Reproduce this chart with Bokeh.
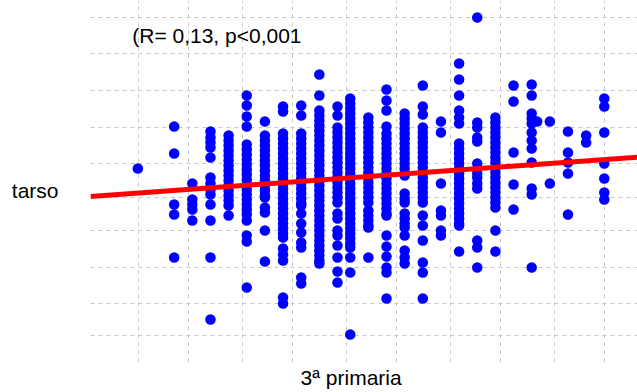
from bokeh.plotting import figure
from bokeh.models import Range1d, FixedTicker, Label
from bokeh.embed import file_html
from bokeh.resources import INLINE

# x positions of the score columns ("3ª primaria", arbitrary units)
score_cols = [0, 2, 3, 4, 5, 6, 7, 8, 9, 10, 11, 11.7, 12.7, 13.7, 14.7, 15.7,
              16.7, 17.7, 18.7, 19.7, 20.7, 21.7, 22.0, 22.7, 23.7, 24.7, 25.7]

# tarso values per column
tarso_c00 = [19.4]
tarso_c02 = [23.6, 20.9, 15.8, 14.8, 10.5]
tarso_c03 = [17.9, 16.3, 15.8, 15.3, 14.2]
tarso_c04 = [23.1, 22.5, 22.0, 21.5, 20.5, 18.5, 17.9, 17.3, 16.8, 15.8, 14.2, 10.5, 4.3]
tarso_c05 = [22.7, 22.2, 21.7, 21.2, 20.7, 20.2, 19.7, 19.2, 18.7, 18.2, 17.7, 17.2,
             16.7, 16.2, 15.7, 14.7]
tarso_c06 = [26.7, 25.7, 24.6, 23.6, 21.8, 21.3, 20.8, 20.3, 19.8, 19.3, 18.8, 18.3,
             17.8, 17.3, 16.8, 16.3, 15.8, 15.3, 14.8, 14.2, 12.7, 12.1, 7.5]
tarso_c07 = [24.1, 22.7, 22.2, 21.7, 21.2, 20.7, 20.2, 19.7, 19.2, 18.7, 18.2, 17.7,
             17.2, 16.7, 16.5, 15.5, 15.0, 13.2, 10.1]
tarso_c08 = [25.6, 25.1, 22.9, 22.4, 21.9, 21.4, 20.9, 20.4, 19.9, 19.4, 18.9, 18.4,
             17.9, 17.4, 16.9, 16.4, 15.9, 15.4, 14.9, 14.4, 13.9, 13.4, 12.9, 12.5,
             11.4, 10.8, 10.2, 6.5, 5.9]
tarso_c09 = [25.7, 24.7, 22.9, 22.4, 21.9, 21.4, 20.9, 20.4, 19.9, 19.4, 18.9, 18.4,
             17.9, 17.4, 16.9, 16.4, 15.9, 15.7, 14.9, 13.9, 13.0, 12.0, 11.5, 8.5, 7.9]
tarso_c10 = [28.8, 26.7, 25.2, 24.7, 24.2, 23.7, 23.2, 22.7, 22.2, 21.7, 21.2, 20.7,
             20.2, 19.7, 19.2, 18.7, 18.2, 17.7, 17.2, 16.7, 16.2, 15.7, 15.2, 14.7,
             14.2, 13.7, 13.2, 12.7, 12.2, 11.7, 11.2, 10.7, 10.2, 9.9]
tarso_c11 = [25.6, 24.7, 23.5, 23.0, 22.5, 22.0, 21.5, 21.0, 20.5, 20.0, 19.5, 19.0,
             18.5, 18.0, 17.5, 17.0, 16.5, 16.0, 14.9, 14.4, 13.2, 12.7, 11.7, 10.5,
             9.1, 8.0]
tarso_c12 = [26.4, 25.9, 25.4, 24.9, 24.4, 23.9, 23.4, 22.9, 22.4, 21.9, 21.4, 20.9,
             20.4, 19.9, 19.4, 18.9, 18.4, 17.9, 17.4, 16.9, 16.4, 15.9, 15.4, 14.9,
             14.4, 13.9, 13.4, 12.9, 12.4, 11.9, 11.5, 10.5, 9.0, 2.8]
tarso_c13 = [24.5, 24.0, 23.5, 23.0, 22.5, 22.0, 21.5, 21.0, 20.5, 20.0, 19.5, 19.0,
             18.5, 18.0, 17.5, 17.0, 16.5, 16.0, 15.2, 14.7, 14.2, 13.7, 13.5, 10.5]
tarso_c14 = [27.3, 26.2, 25.2, 23.6, 22.9, 22.4, 21.9, 21.4, 20.9, 20.4, 19.9, 19.4,
             18.9, 18.4, 17.9, 17.4, 16.9, 16.4, 15.9, 15.4, 14.9, 14.7, 12.7, 11.6,
             10.6, 9.5, 9.0, 6.4]
tarso_c15 = [24.9, 24.4, 23.9, 23.4, 22.9, 22.4, 21.9, 21.4, 20.9, 20.4, 19.9, 19.4,
             18.9, 18.7, 16.9, 16.4, 16.0, 14.9, 14.4, 13.9, 13.5, 12.7, 11.2, 10.5, 9.9]
tarso_c16 = [27.7, 25.6, 24.8, 23.5, 23.0, 22.5, 22.0, 21.5, 21.0, 20.5, 20.0, 19.5,
             19.0, 18.5, 18.0, 17.5, 17.0, 16.5, 16.0, 14.7, 13.7, 12.2, 10.0, 9.0, 6.4]
tarso_c17 = [24.1, 23.0, 17.9, 15.2, 14.7, 13.2, 12.7]
tarso_c18 = [29.9, 28.3, 26.7, 25.2, 24.5, 23.9, 21.9, 21.4, 20.9, 20.4, 19.9, 19.4,
             18.9, 18.4, 17.9, 17.4, 16.9, 16.4, 15.9, 15.4, 14.9, 14.4, 13.9, 13.7, 11.1]
tarso_c19 = [34.5, 24.0, 23.5, 22.5, 22.1, 19.9, 18.9, 18.5, 17.9, 17.4, 12.2, 11.5, 9.5]
tarso_c20 = [24.5, 24.0, 23.5, 23.0, 22.5, 22.0, 21.5, 21.0, 20.5, 20.0, 19.5, 19.0,
             18.5, 18.0, 17.5, 17.0, 16.5, 16.0, 15.5, 13.2, 11.1]
tarso_c21 = [27.7, 26.1, 21.0, 17.8, 15.3]
tarso_c22 = [27.8, 26.7, 24.9, 24.4, 23.9, 23.0, 22.2, 21.4, 20.0, 17.4, 16.8, 9.5]
tarso_c22b = [24.1]
tarso_c23 = [24.1, 17.9]
tarso_c24 = [23.1, 21.0, 20.0, 18.9, 14.8]
tarso_c25 = [22.7, 22.0]
tarso_c26 = [26.4, 25.6, 23.0, 19.9, 18.4, 17.0, 16.3]

# grid (break) positions and fitted line
x_breaks = [0.04, 2.79, 5.77, 8.52, 11.5, 14.25, 17.22, 19.98, 22.96, 25.71]
y_breaks = [2.7, 5.9, 9.5, 13.2, 16.5, 19.9, 23.5, 27.2, 30.9, 34.5]
fit_intercept = 16.95
fit_slope = 0.13
annotation = "(R= 0,13, p<0,001"
x_title = "3ª primaria"
y_title = "tarso"
x_title_at = 11.75
y_title_at = 17.2

columns = [tarso_c00, tarso_c02, tarso_c03, tarso_c04, tarso_c05, tarso_c06, tarso_c07,
           tarso_c08, tarso_c09, tarso_c10, tarso_c11, tarso_c12, tarso_c13, tarso_c14,
           tarso_c15, tarso_c16, tarso_c17, tarso_c18, tarso_c19, tarso_c20, tarso_c21,
           tarso_c22, tarso_c22b, tarso_c23, tarso_c24, tarso_c25, tarso_c26]

xs, ys = [], []
for sx, col in zip(score_cols, columns):
    xs += [sx] * len(col)
    ys += col

x0, x1 = -2.61, 27.53
p = figure(width=637, height=392, output_backend="svg", toolbar_location=None,
           x_range=Range1d(x0, x1), y_range=Range1d(0, 36.2),
           min_border_left=90, min_border_right=0, min_border_top=0,
           min_border_bottom=30, background_fill_color="white",
           border_fill_color="white")
p.outline_line_color = None

font = "Liberation Sans"
fsize = "21px"

# axes: only used to carry the axis titles
p.xaxis.ticker = FixedTicker(ticks=[x_title_at])
p.xaxis.major_label_overrides = {x_title_at: x_title}
p.xaxis.major_label_standoff = 3
p.yaxis.ticker = FixedTicker(ticks=[y_title_at])
p.yaxis.major_label_overrides = {y_title_at: y_title}
p.yaxis.major_label_standoff = 32
for ax in (p.xaxis, p.yaxis):
    ax.axis_line_color = None
    ax.major_tick_line_color = None
    ax.minor_tick_line_color = None
    ax.major_tick_out = 0
    ax.major_tick_in = 0
    ax.major_label_text_font = font
    ax.major_label_text_font_size = fsize
    ax.major_label_text_color = "black"
p.yaxis.major_label_orientation = "horizontal"

for g, br in ((p.xgrid, x_breaks), (p.ygrid, y_breaks)):
    g.ticker = FixedTicker(ticks=br)
    g.grid_line_color = "#c8c8c8"
    g.grid_line_dash = "4 4"
    g.grid_line_width = 1

p.scatter(x=xs, y=ys, marker="circle", size=10.5, fill_color="#0000ff",
          line_color=None)
p.line(x=[x0, x1], y=[fit_intercept + fit_slope * x0, fit_intercept + fit_slope * x1],
       line_color="#ff0000", line_width=5)

p.add_layout(Label(x=-0.31, y=32.7, text=annotation, text_font=font,
                   text_font_size=fsize, text_color="black",
                   text_align="left", text_baseline="alphabetic"))

open("out.html", "w").write(file_html(p, INLINE))
